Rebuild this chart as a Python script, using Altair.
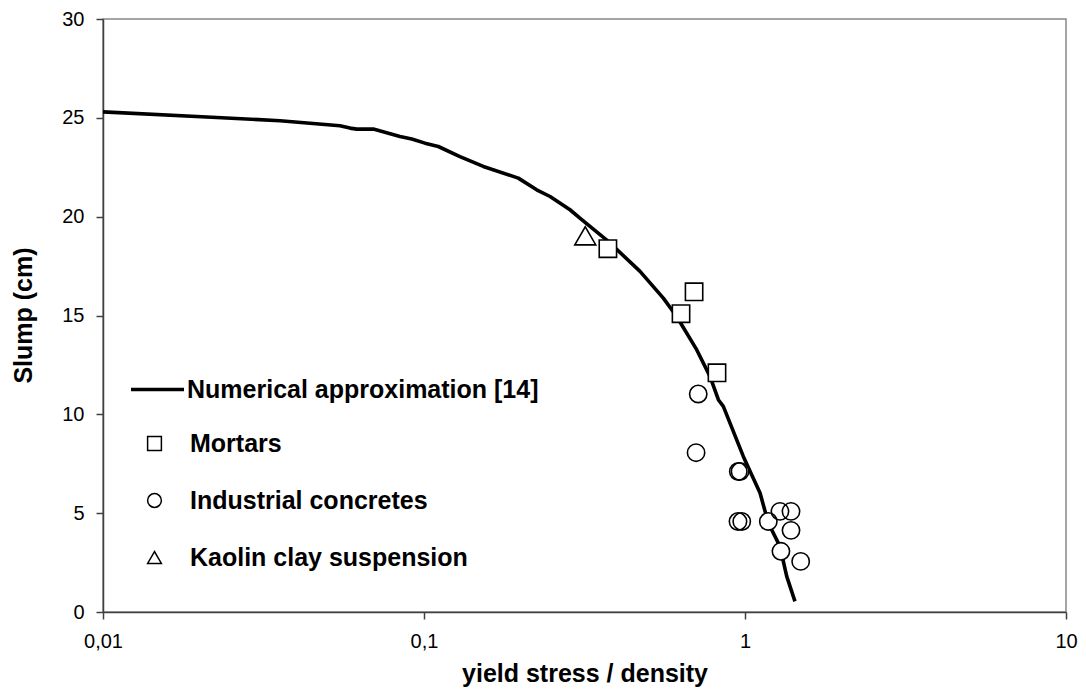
import altair as alt
import pandas as pd

# Numerical approximation curve
curve_x = [0.01, 0.0226, 0.0356, 0.0547, 0.0588, 0.0617, 0.0695, 0.0842, 0.0916, 0.1007,
           0.1108, 0.1294, 0.153, 0.1967, 0.2244, 0.247, 0.285, 0.306, 0.375, 0.471,
           0.5566, 0.6126, 0.707, 0.778, 0.826, 0.856, 0.988, 1.114, 1.182, 1.285,
           1.349, 1.431]
curve_y = [25.3, 25.02, 24.85, 24.6, 24.48, 24.43, 24.43, 24.06, 23.93, 23.72,
           23.55, 23.04, 22.54, 21.95, 21.36, 21.02, 20.35, 19.93, 18.75, 17.23,
           15.88, 14.95, 13.27, 11.92, 10.74, 10.4, 7.87, 6.02, 4.5, 3.32,
           1.8, 0.54]

mortar_x = [0.374, 0.694, 0.632, 0.818]
mortar_y = [18.38, 16.2, 15.09, 12.1]

concrete_x = [0.715, 0.704, 0.953, 0.965, 0.951, 0.977, 1.182, 1.285, 1.391, 1.391, 1.294, 1.491]
concrete_y = [11.03, 8.06, 7.11, 7.11, 4.58, 4.58, 4.58, 5.09, 5.09, 4.13, 3.07, 2.56]

kaolin_x = [0.318]
kaolin_y = [19.03]

line_name = "Numerical approximation [14]"
types = ["Mortars", "Industrial concretes", "Kaolin clay suspension"]
shapes = ["square", "circle", "triangle-up"]

x_ticks = [0.01, 0.1, 1, 10]
y_ticks = [0, 5, 10, 15, 20, 25, 30]

curve_df = pd.DataFrame({"x": curve_x, "y": curve_y, "series": line_name})
mortar_df = pd.DataFrame({"x": mortar_x, "y": mortar_y, "type": types[0]})
concrete_df = pd.DataFrame({"x": concrete_x, "y": concrete_y, "type": types[1]})
kaolin_df = pd.DataFrame({"x": kaolin_x, "y": kaolin_y, "type": types[2]})
pts_df = pd.concat([mortar_df, concrete_df])

FONT = "Liberation Sans"

xscale = alt.Scale(type="log", domain=[0.01, 10])
yscale = alt.Scale(domain=[0, 30])

xaxis = alt.Axis(values=x_ticks, grid=False, title="yield stress / density",
                 labelExpr="replace(toString(datum.value), '.', ',')",
                 tickSize=7, labelPadding=12, labelFontSize=20, labelFont=FONT,
                 labelColor="black", titleFont=FONT, titleFontSize=25, titleFontWeight="bold",
                 titleColor="black", titleY=61, titleBaseline="middle",
                 domainColor="#404040", tickColor="#404040", domainWidth=1.5, tickWidth=1.5,
                 labelFlush=False, labelOverlap=False)
yaxis = alt.Axis(values=y_ticks, grid=False, title="Slump (cm)",
                 tickSize=7, labelPadding=12, labelFontSize=20, labelFont=FONT,
                 labelColor="black", titleFont=FONT, titleFontSize=25, titleFontWeight="bold",
                 titleColor="black", titleX=-80, titleY=296, titleBaseline="middle",
                 titleAngle=270, titleAlign="center",
                 domainColor="#404040", tickColor="#404040", domainWidth=1.5, tickWidth=1.5,
                 labelFlush=False, labelOverlap=False)

shape_legend = alt.Legend(title=None, orient="none", legendX=39, legendY=412,
                          symbolSize=190, symbolStrokeWidth=1.5,
                          labelOffset=23, rowPadding=31, padding=0,
                          labelFont=FONT, labelFontSize=25, labelFontWeight="bold",
                          labelColor="black", labelLimit=600)
shape_enc = alt.Shape("type:N", scale=alt.Scale(domain=types, range=shapes), legend=shape_legend)

X = alt.X("x:Q", scale=xscale)
Y = alt.Y("y:Q", scale=yscale)

line = alt.Chart(curve_df).mark_line(strokeWidth=3.6, strokeJoin="round").encode(
    x=alt.X("x:Q", scale=xscale, axis=xaxis),
    y=alt.Y("y:Q", scale=yscale, axis=yaxis),
    color=alt.Color("series:N", scale=alt.Scale(domain=[line_name], range=["black"]),
                    legend=alt.Legend(title=None, orient="none", legendX=26, legendY=342,
                                      symbolType="stroke", symbolSize=2809,
                                      symbolStrokeWidth=3.6, labelOffset=1, padding=0,
                                      labelFont=FONT, labelFontSize=25, labelFontWeight="bold",
                                      labelColor="black", labelLimit=600)),
)

# white fills under the open markers, so that they hide the curve
under_sq = alt.Chart(mortar_df).mark_point(shape="square", filled=True, color="white",
                                           opacity=1, size=300).encode(x=X, y=Y)
under_ci = alt.Chart(concrete_df).mark_point(shape="circle", filled=True, color="white",
                                             opacity=1, size=300).encode(x=X, y=Y)
under_tr = alt.Chart(kaolin_df).mark_point(shape="triangle-up", filled=True, color="white",
                                           opacity=1, size=440).encode(x=X, y=Y)

points = alt.Chart(pts_df).mark_point(filled=False, color="black", strokeWidth=1.6,
                                      size=300, opacity=1).encode(x=X, y=Y, shape=shape_enc)
tri = alt.Chart(kaolin_df).mark_point(filled=False, color="black", strokeWidth=1.6,
                                      size=440, opacity=1).encode(x=X, y=Y, shape=shape_enc)

chart = alt.layer(line, under_sq, under_ci, under_tr, points, tri).properties(
    width=963, height=593,
    autosize=alt.AutoSizeParams(type="none"),
    padding={"left": 95, "top": 11, "right": 12, "bottom": 80},
    background="white",
).configure_view(stroke="#888888", strokeWidth=1.5)

chart.save("out.html", embed_options={"renderer": "svg", "actions": False})
